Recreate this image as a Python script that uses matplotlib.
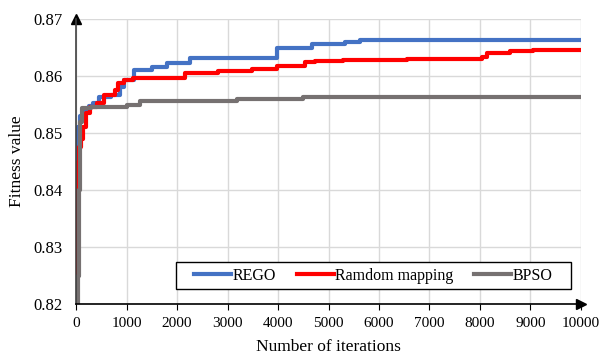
import matplotlib.pyplot as plt
from matplotlib.patches import Rectangle

plt.rcParams['font.family'] = ['Liberation Serif', 'DejaVu Serif']

# iteration at which each step starts, and the fitness value from there on
rego_x = [0, 5, 15, 40, 80, 150, 250, 330, 450, 700, 880, 950, 1150, 1500, 1800,
          2260, 3980, 4670, 5330, 5620, 10000]
rego_y = [0.820, 0.849, 0.850, 0.851, 0.853, 0.854, 0.8548, 0.8553, 0.8563, 0.8567,
          0.858, 0.8593, 0.861, 0.8616, 0.8622, 0.8631, 0.8649, 0.8656, 0.8659,
          0.8664, 0.8664]

rand_x = [0, 10, 30, 50, 90, 140, 200, 280, 420, 560, 780, 830, 950, 1130, 2160,
          2810, 3480, 3980, 4530, 4730, 5290, 6550, 8040, 8140, 8590, 9050, 10000]
rand_y = [0.820, 0.835, 0.845, 0.8476, 0.849, 0.851, 0.8535, 0.8545, 0.8553, 0.8567,
          0.8575, 0.8588, 0.8593, 0.8596, 0.8605, 0.8609, 0.8613, 0.8618, 0.8624,
          0.8626, 0.8628, 0.863, 0.8634, 0.864, 0.8644, 0.8646, 0.8646]

bpso_x = [0, 40, 60, 80, 110, 300, 1010, 1270, 3190, 4500, 10000]
bpso_y = [0.820, 0.825, 0.840, 0.852, 0.8544, 0.8546, 0.8549, 0.8556, 0.856, 0.8564,
          0.8564]

fig = plt.figure(figsize=(6, 3.56), dpi=100)
ax = fig.add_axes([0.1267, 0.146, 0.8416, 0.8006])

ax.plot(rego_x, rego_y, drawstyle='steps-post', color='#4472C4', lw=3, label='REGO')
ax.plot(rand_x, rand_y, drawstyle='steps-post', color='#FF0000', lw=3, label='Ramdom mapping')
ax.plot(bpso_x, bpso_y, drawstyle='steps-post', color='#767171', lw=3, label='BPSO')

ax.set_xlim(0, 10000)
ax.set_ylim(0.82, 0.87)
ax.set_xticks(range(0, 10001, 1000))
ax.set_yticks([0.82, 0.83, 0.84, 0.85, 0.86, 0.87])
ax.set_yticklabels(['0.82', '0.83', '0.84', '0.85', '0.86', '0.87'])
ax.tick_params(axis='x', direction='out', length=4, labelsize=11, pad=5)
ax.tick_params(axis='y', length=0, labelsize=12, pad=10)
ax.grid(True, color='#d9d9d9', lw=1)
ax.set_axisbelow(True)

for s in ['top', 'right']:
    ax.spines[s].set_visible(False)
ax.spines['left'].set_color('#404040')
ax.spines['bottom'].set_color('black')
ax.spines['left'].set_linewidth(1.2)
ax.spines['bottom'].set_linewidth(1.2)
ax.plot(1, 0, '>k', ms=7, transform=ax.transAxes, clip_on=False)
ax.plot(0, 1, '^k', ms=7, transform=ax.transAxes, clip_on=False)

ax.set_xlabel('Number of iterations', fontsize=12.5, labelpad=7)
ax.set_ylabel('Fitness value', fontsize=12.5, labelpad=6)

# legend frame drawn separately so the side padding can be wider than top/bottom
ax.add_patch(Rectangle((0.198, 0.0526), 0.782, 0.0945, transform=ax.transAxes,
                       facecolor='white', edgecolor='black', lw=1, zorder=4))
leg = ax.legend(loc='center', bbox_to_anchor=(0.589, 0.10), ncol=3, fontsize=11.5,
                frameon=False, handlelength=2.3, handletextpad=0.1,
                columnspacing=1.3, borderpad=0)
leg.set_zorder(5)

fig.savefig('out.png')
